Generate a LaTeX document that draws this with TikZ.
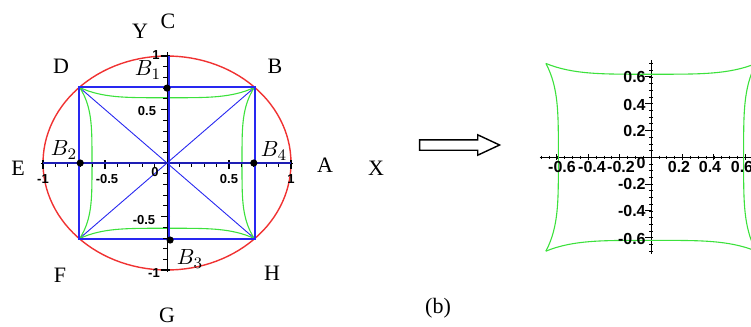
\documentclass[tikz,border=0pt]{standalone}
\usepackage{fontspec}
\setmainfont{Liberation Serif}
\newfontfamily\tickfont{Liberation Sans}
\usepackage{tikz}
\usetikzlibrary{arrows.meta, positioning, shapes.arrows}
\definecolor{plotred}{RGB}{240,50,50}
\definecolor{plotblue}{RGB}{40,40,240}
\definecolor{plotgreen}{RGB}{60,225,60}
\tikzset{
	ptlabel/.style={font=\fontsize{11}{13}\selectfont, inner sep=0pt},
	ticklab/.style={font=\tickfont\bfseries\fontsize{6.5}{7}\selectfont, inner sep=0pt},
	bigticklab/.style={font=\tickfont\bfseries\fontsize{8}{9}\selectfont, inner sep=0pt},
	axisline/.style={black, line width=0.5pt},
	bluepart/.style={plotblue, line width=#1},
	greenpart/.style={plotgreen, line width=0.55pt},
	dotpt/.style={circle, fill=black, inner sep=0pt, minimum size=3.6pt},
	mapsto/.style={single arrow, draw, line width=0.7pt, inner sep=2.25pt, minimum height=40pt, single arrow head extend=2.5pt, single arrow tip angle=50},
}

\begin{document}
\begin{tikzpicture}[x=0.5pt, y=-0.5pt]
	\useasboundingbox (0,0) rectangle (751,327);
	\clip (0,0) rectangle (751,327);
	% left plot
	\begin{scope}[shift={(167,163)}, x=62pt, y=53.5pt]
		\draw[plotred, line width=0.7pt] plot[domain=0:360, samples=120] ({cos(\x)},{sin(\x)});
		\coordinate (sqNE) at (0.707,0.707);
		\coordinate (sqNW) at (-0.707,0.707);
		\coordinate (sqSW) at (-0.707,-0.707);
		\coordinate (sqSE) at (0.707,-0.707);
		\coordinate (orig) at (0,0);
		\draw[bluepart=0.45pt] (sqSW) -- (sqNE);
		\draw[bluepart=0.45pt] (sqNW) -- (sqSE);
		\draw[greenpart] plot[domain=-0.707:0.707, samples=40] (\x, {0.61+0.39*\x*\x*\x*\x});
		\draw[greenpart] plot[domain=-0.707:0.707, samples=40] (\x, {-0.61-0.39*\x*\x*\x*\x});
		\draw[greenpart] plot[domain=-0.707:0.707, samples=40] ({0.605+0.4*\x*\x*\x*\x}, \x);
		\draw[greenpart] plot[domain=-0.707:0.707, samples=40] ({-0.605-0.4*\x*\x*\x*\x}, \x);
		\draw[bluepart=0.9pt] (sqSW) rectangle (sqNE);
		% axes with ticks
		\draw[axisline] (-1.02,0) -- (1.02,0);
		\draw[axisline] (0,-1.02) -- (0,1.04);
		\foreach \t in {-1,-0.9,...,1.01} {
			\draw[axisline, line width=0.35pt] (\t,0) -- ++(0,-2.2pt);
			\draw[axisline, line width=0.35pt] (0,\t) -- ++(-2.2pt,0);
		}
		\foreach \t in {-1,-0.5,0.5,1} {
			\draw[axisline, line width=0.6pt] (\t,1.5pt) -- ++(0,-4.5pt);
			\draw[axisline, line width=0.6pt] (1.5pt,\t) -- ++(-4.5pt,0);
		}
		\draw[plotblue!75!black, line width=1.1pt] (-1,0) -- (1,0);
		\draw[bluepart=0.9pt] ([xshift=0.8pt]0,-0.707) -- ([xshift=0.8pt]0,1);
		\node[dotpt] (b1) at (0,0.70) {};
		\node[dotpt] (b2) at (-0.70,0) {};
		\node[dotpt] (b3) at (0.025,-0.72) {};
		\node[dotpt] (b4) at (0.70,0) {};
	\end{scope}
	% tick labels, left plot
	\node[ticklab] (lxa) at (43,179) {-1};
	\node[ticklab] (lxb) at (107,179) {-0.5};
	\node[ticklab] (lxc) at (155,172) {0};
	\node[ticklab] (lxd) at (229,179) {0.5};
	\node[ticklab] (lxe) at (291,179) {1};
	\node[ticklab] (lya) at (156,55) {1};
	\node[ticklab] (lyb) at (147,111) {0.5};
	\node[ticklab] (lyc) at (144,220) {-0.5};
	\node[ticklab] (lyd) at (154,273) {-1};
	% point labels
	\node[ptlabel] (labY) at (140,31) {Y};
	\node[ptlabel] (labC) at (168,21) {C};
	\node[ptlabel] (labD) at (61,66) {D};
	\node[ptlabel] (labB) at (275,66) {B};
	\node[ptlabel] (labE) at (18,168) {E};
	\node[ptlabel] (labA) at (325,165) {A};
	\node[ptlabel] (labF) at (60,275) {F};
	\node[ptlabel] (labH) at (272,273) {H};
	\node[ptlabel] (labG) at (167,315) {G};
	\node[ptlabel] (labX) at (376,168) {X};
	\node[ptlabel] (labb) at (438,308) {(b)};
	\node[ptlabel] (labB1) at (148,70) {$B_1$};
	\node[ptlabel] (labB2) at (64,150) {$B_2$};
	\node[ptlabel] (labB3) at (190,259) {$B_3$};
	\node[ptlabel] (labB4) at (274,151) {$B_4$};
	% the map
	\node[mapsto] (arr) at (454,145) {};
	% right plot
	\begin{scope}[shift={(651,157.3)}, x=78.5pt, y=67pt]
		\draw[axisline] (-0.71,0) -- (0.75,0);
		\draw[axisline] (0,-0.72) -- (0,0.725);
		\foreach \t in {-0.7,-0.65,...,0.76} {
			\draw[axisline, line width=0.3pt] (\t,0.9pt) -- ++(0,-1.8pt);
		}
		\foreach \t in {-0.7,-0.65,...,0.71} {
			\draw[axisline, line width=0.3pt] (0.9pt,\t) -- ++(-1.8pt,0);
		}
		\foreach \t in {-0.6,-0.4,-0.2,0.2,0.4,0.6} {
			\draw[axisline, line width=0.5pt] (\t,1.5pt) -- ++(0,-3pt);
			\draw[axisline, line width=0.5pt] (0,\t) -- ++(-3pt,0);
		}
		\draw[greenpart] plot[domain=-0.67:0.67, samples=40] (\x, {0.62+0.4*\x*\x*\x*\x});
		\draw[greenpart] plot[domain=-0.67:0.67, samples=40] (\x, {-0.62-0.4*\x*\x*\x*\x});
		\draw[greenpart] plot[domain=-0.70:0.70, samples=40] ({0.59+0.33*\x*\x*\x*\x}, \x);
		\draw[greenpart] plot[domain=-0.70:0.70, samples=40] ({-0.59-0.33*\x*\x*\x*\x}, \x);
	\end{scope}
	% tick labels, right plot
	\node[bigticklab] (rxa) at (562,167) {-0.6};
	\node[bigticklab] (rxb) at (592,167) {-0.4};
	\node[bigticklab] (rxc) at (621,167) {-0.2};
	\node[bigticklab] (rxd) at (641,163) {0};
	\node[bigticklab] (rxe) at (679,167) {0.2};
	\node[bigticklab] (rxf) at (710,167) {0.4};
	\node[bigticklab] (rxg) at (742,167) {0.6};
	\node[bigticklab, anchor=east] (rya) at (646,77) {0.6};
	\node[bigticklab, anchor=east] (ryb) at (646,104.5) {0.4};
	\node[bigticklab, anchor=east] (ryc) at (646,131) {0.2};
	\node[bigticklab, anchor=east] (ryd) at (646,184) {-0.2};
	\node[bigticklab, anchor=east] (rye) at (646,211) {-0.4};
	\node[bigticklab, anchor=east] (ryf) at (646,239) {-0.6};
\end{tikzpicture}
\end{document}
